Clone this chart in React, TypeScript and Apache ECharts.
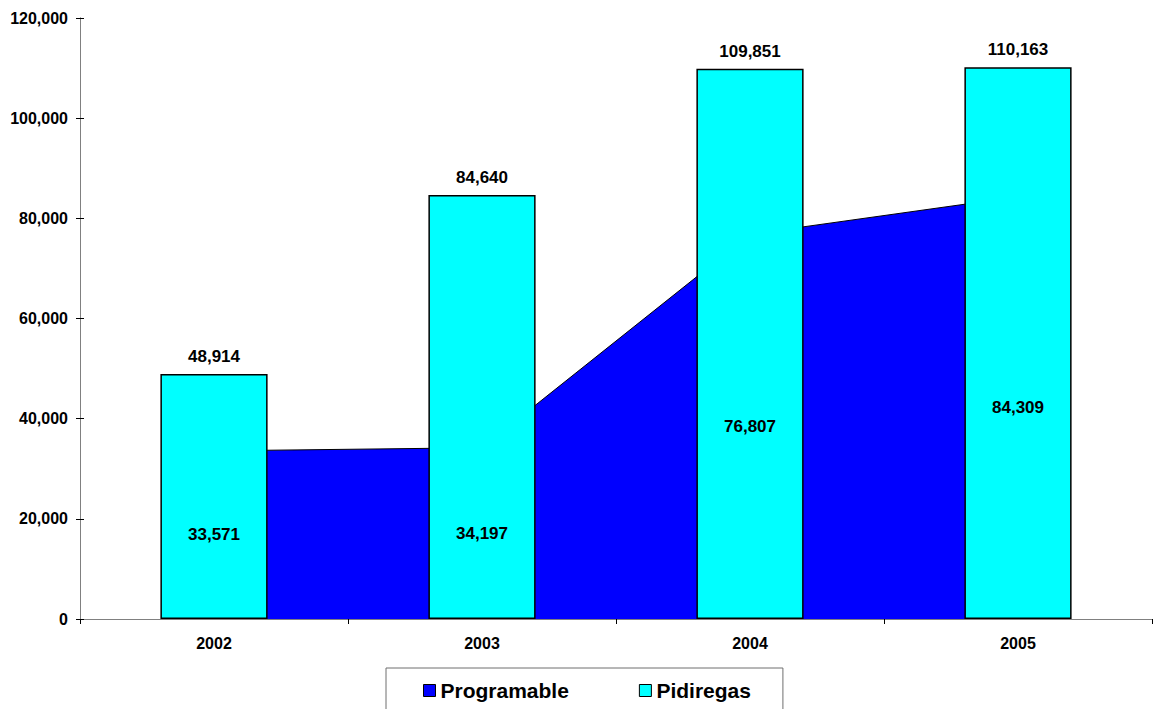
import React, { useEffect, useRef } from "react";
import * as echarts from "echarts";

const years = ["2002", "2003", "2004", "2005"];
const programable = [33571, 34197, 76807, 84309];
const pidiregas = [48914, 84640, 109851, 110163];
const yTicks = { min: 0, max: 120000, interval: 20000 };

const FONT = "Arial, 'Liberation Sans', sans-serif";
const fmt = (v: number) => v.toLocaleString("en-US");

export default function App() {
  const ref = useRef<HTMLDivElement>(null);
  useEffect(() => {
    if (!ref.current) return;
    const chart = echarts.init(ref.current, null, { renderer: "svg" });
    const yBase = {
      type: "value",
      min: yTicks.min,
      max: yTicks.max,
      interval: yTicks.interval,
      splitLine: { show: false },
      axisLine: { show: true, lineStyle: { color: "#808080", width: 1 } },
    };
    chart.setOption({
      animation: false,
      backgroundColor: "#ffffff",
      grid: { left: 80, right: 2, top: 18, bottom: 90, containLabel: false },
      xAxis: {
        type: "category",
        data: years,
        boundaryGap: true,
        axisLine: { show: true, lineStyle: { color: "#808080", width: 1 } },
        axisTick: { show: true, alignWithLabel: false, length: 5, lineStyle: { color: "#000" } },
        axisLabel: {
          color: "#000",
          fontWeight: "bold",
          fontSize: 16,
          fontFamily: FONT,
          margin: 16,
        },
      },
      yAxis: [
        {
          ...yBase,
          axisTick: { show: true, length: 4, lineStyle: { color: "#000" } },
          axisLabel: {
            color: "#000",
            fontWeight: "bold",
            fontSize: 16,
            fontFamily: FONT,
            margin: 12,
            formatter: (v: number) => fmt(v),
          },
        },
        {
          ...yBase,
          position: "left",
          axisTick: { show: true, inside: true, length: 4, lineStyle: { color: "#000" } },
          axisLabel: { show: false },
        },
      ],
      legend: {
        left: 386,
        top: 668,
        orient: "horizontal",
        padding: [12, 32, 30, 37],
        itemGap: 70,
        itemWidth: 12,
        itemHeight: 12,
        borderColor: "#6e6e6e",
        borderWidth: 1,
        textStyle: { color: "#000", fontWeight: "bold", fontSize: 21, fontFamily: FONT },
        data: [
          { name: "Programable", icon: "rect", itemStyle: { color: "#0000FF", borderColor: "#000", borderWidth: 1 } },
          { name: "Pidiregas", icon: "rect", itemStyle: { color: "#00FFFF", borderColor: "#000", borderWidth: 1 } },
        ],
      },
      series: [
        {
          name: "Programable",
          type: "line",
          data: programable,
          symbol: "none",
          lineStyle: { color: "#000", width: 1 },
          itemStyle: { color: "#0000FF" },
          areaStyle: { color: "#0000FF", opacity: 1 },
          z: 1,
        },
        {
          name: "Pidiregas",
          type: "bar",
          data: pidiregas,
          barWidth: "40%",
          barGap: "-100%",
          itemStyle: { color: "#00FFFF", borderColor: "#000", borderWidth: 1.5 },
          label: {
            show: true,
            position: "top",
            distance: 9,
            color: "#000",
            fontWeight: "bold",
            fontSize: 17,
            fontFamily: FONT,
            formatter: (p: any) => fmt(p.value),
          },
          z: 3,
        },
        {
          name: "ProgramableLabels",
          type: "bar",
          data: programable,
          barWidth: "40%",
          barGap: "-100%",
          itemStyle: { color: "rgba(0,0,0,0)" },
          silent: true,
          label: {
            show: true,
            position: "inside",
            color: "#000",
            fontWeight: "bold",
            fontSize: 17,
            fontFamily: FONT,
            formatter: (p: any) => fmt(p.value),
          },
          z: 4,
        },
      ],
    });
    return () => chart.dispose();
  }, []);
  return (
    <div
      ref={ref}
      style={{ position: "fixed", left: 0, top: 0, width: 1154, height: 709 }}
    />
  );
}
